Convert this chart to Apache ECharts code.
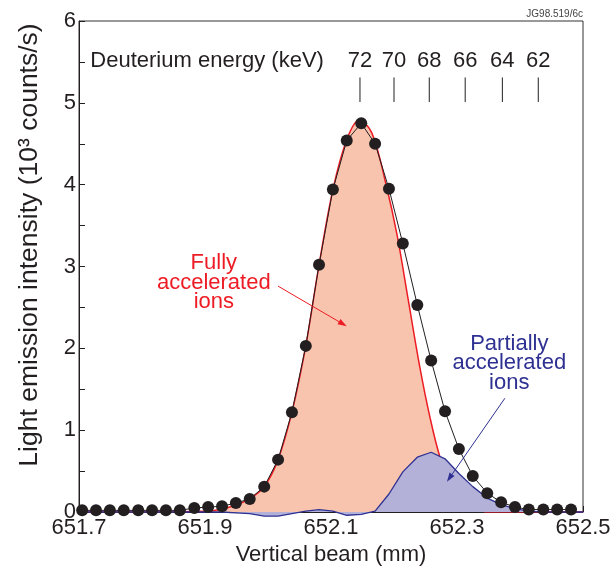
<!DOCTYPE html>
<html>
<head>
<meta charset="utf-8">
<script src="https://cdn.jsdelivr.net/npm/echarts@6/dist/echarts.min.js"></script>
<style>
  html, body { margin: 0; padding: 0; background: #ffffff; }
  #chart { width: 616px; height: 575px; }
</style>
</head>
<body>
<div id="chart"></div>
<script>
// Measured beam emission profile (dots), position in mm, intensity in 10^3 counts/s
const beamPos = [651.705, 651.727, 651.749, 651.771, 651.794, 651.816, 651.838, 651.860,
                 651.883, 651.905, 651.927, 651.949, 651.971, 651.994, 652.016, 652.038,
                 652.060, 652.081, 652.103, 652.125, 652.148, 652.170, 652.192, 652.214,
                 652.237, 652.259, 652.281, 652.303, 652.325, 652.348, 652.370, 652.392,
                 652.414, 652.437, 652.459, 652.481];
const intensity = [0.02, 0.02, 0.02, 0.02, 0.02, 0.02, 0.02, 0.02,
                   0.05, 0.06, 0.07, 0.11, 0.16, 0.31, 0.64, 1.22,
                   2.03, 3.02, 3.94, 4.54, 4.75, 4.50, 3.95, 3.28,
                   2.53, 1.85, 1.23, 0.77, 0.44, 0.23, 0.12, 0.06,
                   0.03, 0.03, 0.03, 0.03];

// Fitted component: fully accelerated ions
const fullPos = [651.700, 651.900, 651.930, 651.950, 651.971, 651.994, 652.016, 652.038,
                 652.060, 652.081, 652.103, 652.125, 652.145, 652.165, 652.188, 652.205,
                 652.222, 652.241, 652.257, 652.273, 652.290, 652.310, 652.330, 652.350, 652.500];
const fullFit = [0, 0.01, 0.04, 0.09, 0.16, 0.31, 0.64, 1.22,
                 2.03, 3.02, 3.94, 4.55, 4.79, 4.63, 3.98, 3.38,
                 2.62, 1.77, 1.16, 0.67, 0.34, 0.13, 0.04, 0, 0];

// Remaining component: partially accelerated ions
const partPos = [651.700, 651.905, 651.927, 651.949, 651.971, 651.994, 652.016, 652.038,
                 652.060, 652.081, 652.103, 652.125, 652.148, 652.170, 652.192, 652.214,
                 652.237, 652.259, 652.281, 652.303, 652.325, 652.348, 652.370, 652.392,
                 652.414, 652.437, 652.500];
const partFit = [0, 0, 0, -0.01, -0.02, -0.05, -0.05, -0.02,
                 0.01, 0.03, 0.01, -0.04, -0.03, 0.01, 0.22, 0.49,
                 0.67, 0.73, 0.65, 0.47, 0.31, 0.17, 0.09, 0.04,
                 0.01, 0, 0];

// Deuterium energy scale (keV) and where each value falls on the beam axis (mm)
const energyLabels = ['72', '70', '68', '66', '64', '62'];
const energyPos = [652.146, 652.200, 652.256, 652.313, 652.372, 652.429];

// Axis tick labels
const xTickLabels = ['651.7', '651.9', '652.1', '652.3', '652.5'];
const yTickLabels = ['0', '1', '2', '3', '4', '5', '6'];

const FONT = "'Liberation Sans', Arial, Helvetica, sans-serif";
const INK = '#231f20';
const RED = '#ed1c24';
const BLUE = '#2e3192';

const pairs = (xs, ys) => xs.map((x, i) => [x, ys[i]]);

const chart = echarts.init(document.getElementById('chart'), null, { renderer: 'canvas' });

const option = {
  animation: false,
  backgroundColor: '#ffffff',
  grid: {
    left: 79, right: 33, top: 21, bottom: 63,
    show: true, borderColor: '#333333', borderWidth: 1, backgroundColor: 'transparent'
  },
  xAxis: {
    type: 'value',
    min: 651.7, max: 652.5, interval: 0.1,
    name: 'Vertical beam (mm)',
    nameLocation: 'middle',
    nameGap: 29,
    nameTextStyle: { fontFamily: FONT, fontSize: 22, color: INK },
    axisLine: { show: true, onZero: false, lineStyle: { color: INK, width: 1 } },
    axisTick: { show: true, inside: true, length: 6, lineStyle: { color: INK } },
    axisLabel: {
      fontFamily: FONT, fontSize: 22, color: INK, margin: 5,
      formatter: v => {
        const s = v.toFixed(1);
        return xTickLabels.indexOf(s) >= 0 ? s : '';
      }
    },
    splitLine: { show: false }
  },
  yAxis: {
    type: 'value',
    min: 0, max: 6, interval: 0.5,
    axisLine: { show: true, lineStyle: { color: INK, width: 1 } },
    axisTick: { show: true, inside: true, length: 6, lineStyle: { color: INK } },
    axisLabel: {
      fontFamily: FONT, fontSize: 22, color: INK, margin: 3,
      formatter: v => {
        const s = String(Math.round(v * 10) / 10);
        return yTickLabels.indexOf(s) >= 0 ? s : '';
      }
    },
    splitLine: { show: false }
  },
  series: [
    {
      name: 'Fully accelerated ions',
      type: 'line',
      data: pairs(fullPos, fullFit),
      smooth: 0.35,
      symbol: 'none',
      z: 2,
      lineStyle: { color: RED, width: 1.5 },
      areaStyle: { color: '#f8c4ae', opacity: 1 }
    },
    {
      name: 'Partially accelerated ions',
      type: 'line',
      data: pairs(partPos, partFit),
      smooth: false,
      clip: false,
      symbol: 'none',
      z: 3,
      lineStyle: { color: BLUE, width: 1.3 },
      areaStyle: { color: '#b4b1d9', opacity: 1 }
    },
    {
      name: 'Measured',
      type: 'line',
      data: pairs(beamPos, intensity),
      symbol: 'circle',
      symbolSize: 12,
      clip: false,
      z: 5,
      itemStyle: { color: INK },
      lineStyle: { color: INK, width: 1 }
    },
    {
      name: 'Energy scale',
      type: 'custom',
      z: 6,
      data: energyPos.map((p, i) => [p, i]),
      renderItem: (params, api) => {
        const x = api.value(0);
        const a = api.coord([x, 5.01]);
        const b = api.coord([x, 5.31]);
        const t = api.coord([x, 5.51]);
        return {
          type: 'group',
          children: [
            { type: 'line', shape: { x1: a[0], y1: a[1], x2: b[0], y2: b[1] },
              style: { stroke: INK, lineWidth: 1 } },
            { type: 'text', x: t[0], y: t[1],
              style: { text: energyLabels[params.dataIndex], fill: INK,
                       font: '22px ' + FONT, align: 'center', verticalAlign: 'middle' } }
          ]
        };
      }
    }
  ]
};

chart.setOption(option);

// Annotations placed in data coordinates
const px = p => chart.convertToPixel({ gridIndex: 0 }, p);

function arrow(from, to, color, headLen, headW) {
  const a = px(from), b = px(to);
  const dx = b[0] - a[0], dy = b[1] - a[1];
  const len = Math.sqrt(dx * dx + dy * dy);
  const ux = dx / len, uy = dy / len;
  const bx = b[0] - ux * headLen, by = b[1] - uy * headLen;
  const nx = -uy * headW / 2, ny = ux * headW / 2;
  return [
    { type: 'line', z: 20, shape: { x1: a[0], y1: a[1], x2: bx, y2: by },
      style: { stroke: color, lineWidth: 1 } },
    { type: 'polygon', z: 20, shape: { points: [[b[0], b[1]], [bx + nx, by + ny], [bx - nx, by - ny]] },
      style: { fill: color } }
  ];
}

const energyTitle = px([651.718, 5.51]);
const redText = px([651.914, 2.80]);
const blueText = px([652.383, 1.82]);

chart.setOption({
  graphic: [
    { type: 'text', x: energyTitle[0], y: energyTitle[1], z: 20,
      style: { text: 'Deuterium energy (keV)', fill: INK, font: '22px ' + FONT,
               align: 'left', verticalAlign: 'middle' } },
    { type: 'text', x: redText[0], y: redText[1], z: 20,
      style: { text: 'Fully\naccelerated\nions', fill: RED, font: '22px ' + FONT,
               align: 'center', verticalAlign: 'middle', lineHeight: 19.5 } },
    { type: 'text', x: blueText[0], y: blueText[1], z: 20,
      style: { text: 'Partially\naccelerated\nions', fill: BLUE, font: '22px ' + FONT,
               align: 'center', verticalAlign: 'middle', lineHeight: 19.5 } },
    ...arrow([652.016, 2.76], [652.125, 2.27], RED, 9, 6),
    ...arrow([652.376, 1.39], [652.284, 0.37], BLUE, 9, 6),
    { type: 'text', x: 30, y: 245, rotation: Math.PI / 2, z: 20,
      style: { text: 'Light emission intensity (10\u00b3 counts/s)', fill: INK,
               font: '26.5px ' + FONT, align: 'center', verticalAlign: 'middle' } },
    { type: 'text', right: 33, top: 9, z: 20,
      style: { text: 'JG98.519/6c', fill: '#444444', font: '10px ' + FONT } }
  ]
});
</script>
</body>
</html>
